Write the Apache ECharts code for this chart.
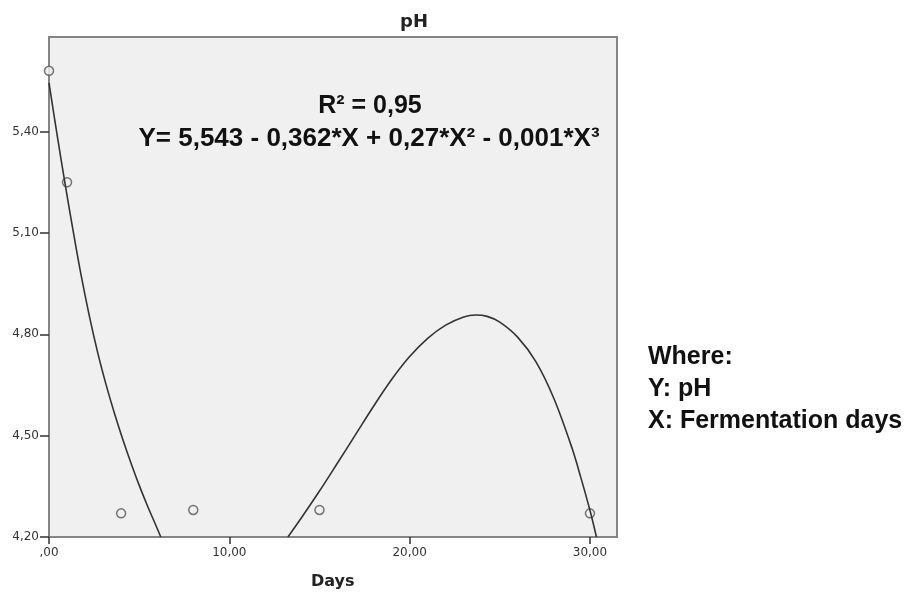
<!DOCTYPE html>
<html>
<head>
<meta charset="utf-8">
<script src="https://cdn.jsdelivr.net/npm/echarts@6/dist/echarts.min.js"></script>
<style>html,body{margin:0;padding:0;background:#fff;}#chart{width:909px;height:594px;}</style>
</head>
<body>
<div id="chart"></div>
<script>
// Observed data points: [day, pH]
const observedPoints = [[0, 5.58], [1, 5.25], [4, 4.27], [8, 4.28], [15, 4.28], [30, 4.27]];
// Fitted curve (left branch, until it leaves the plot at 4.20)
const fitLeft = [[0, 5.544], [0.45, 5.39], [0.9, 5.243], [1.3, 5.118], [1.77, 4.978], [2.23, 4.856], [2.69, 4.748],
  [3.15, 4.654], [3.62, 4.568], [4.08, 4.491], [4.54, 4.42], [5.01, 4.352], [5.47, 4.291], [5.93, 4.234], [6.2, 4.20]];
// Fitted curve, right branch (re-enters at 4.20)
const fitRight = [[13.25, 4.20], [14, 4.257], [15, 4.336], [16, 4.419], [17, 4.503], [18, 4.587], [19, 4.666],
  [20, 4.734], [21, 4.788], [22, 4.827], [23, 4.851], [23.65, 4.857], [24.3, 4.853], [25, 4.836], [26, 4.791],
  [27, 4.719], [28, 4.61], [29, 4.464], [29.5, 4.375], [30, 4.279], [30.36, 4.20]];
const xTicks = [0, 10, 20, 30];
const yTicks = [4.2, 4.5, 4.8, 5.1, 5.4];
const titleText = 'pH';
const xAxisName = 'Days';
const r2Text = 'R² = 0,95';
const equationText = 'Y= 5,543 - 0,362*X + 0,27*X² - 0,001*X³';
const legendLines = ['Where:', 'Y: pH', 'X: Fermentation days'];

function fmt(v) {
  const s = v.toFixed(2).replace('.', ',');
  return s.startsWith('0,') ? s.slice(1) : s;
}

const chart = echarts.init(document.getElementById('chart'));
const gridLeft = 49, gridTop = 37, gridRight = 292, gridBottom = 57;
const axisColor = '#858585';
const labelStyle = { fontFamily: 'DejaVu Sans', fontSize: 12, color: '#333' };

chart.setOption({
  animation: false,
  backgroundColor: '#fff',
  grid: {
    left: gridLeft, top: gridTop, right: gridRight, bottom: gridBottom,
    show: true, backgroundColor: '#f0f0f0', borderColor: axisColor, borderWidth: 2
  },
  xAxis: {
    type: 'value', min: 0, max: 31.5, interval: 10,
    axisLine: { show: true, onZero: false, lineStyle: { color: axisColor, width: 2 } },
    axisTick: { show: true, length: 7, customValues: xTicks, lineStyle: { color: '#333', width: 1.5 } },
    axisLabel: Object.assign({ margin: 10, customValues: xTicks, formatter: fmt }, labelStyle),
    splitLine: { show: false }
  },
  yAxis: {
    type: 'value', min: 4.2, max: 5.68, interval: 0.3,
    axisLine: { show: true, onZero: false, lineStyle: { color: axisColor, width: 2 } },
    axisTick: { show: true, length: 9, customValues: yTicks, lineStyle: { color: '#333', width: 1.5 } },
    axisLabel: Object.assign({ margin: 10, customValues: yTicks, formatter: fmt }, labelStyle),
    splitLine: { show: false }
  },
  series: [
    {
      type: 'scatter', data: observedPoints, symbol: 'circle', symbolSize: 9,
      itemStyle: { color: '#f0f0f0', borderColor: '#555', borderWidth: 1.5 }, z: 2
    },
    {
      type: 'line', data: fitLeft, smooth: 0.35, showSymbol: false, clip: true,
      lineStyle: { color: '#333', width: 1.6 }, z: 3
    },
    {
      type: 'line', data: fitRight, smooth: 0.35, showSymbol: false, clip: true,
      lineStyle: { color: '#333', width: 1.6 }, z: 3
    }
  ],
  graphic: [
    { type: 'text', left: 400, top: 13, style: { text: titleText, font: 'bold 18px "DejaVu Sans"', fill: '#222' } },
    { type: 'text', left: 311, top: 574, style: { text: xAxisName, font: 'bold 16px "DejaVu Sans"', fill: '#222' } },
    { type: 'text', x: 370, y: 106, style: { text: r2Text, font: 'bold 25px "Liberation Sans"', fill: '#111', align: 'center', verticalAlign: 'middle' } },
    { type: 'text', x: 369, y: 139, style: { text: equationText, font: 'bold 26px "Liberation Sans"', fill: '#111', align: 'center', verticalAlign: 'middle' } },
    { type: 'text', x: 648, y: 357, style: { text: legendLines[0], font: 'bold 25px "Liberation Sans"', fill: '#111', align: 'left', verticalAlign: 'middle' } },
    { type: 'text', x: 648, y: 389, style: { text: legendLines[1], font: 'bold 25px "Liberation Sans"', fill: '#111', align: 'left', verticalAlign: 'middle' } },
    { type: 'text', x: 648, y: 421, style: { text: legendLines[2], font: 'bold 25px "Liberation Sans"', fill: '#111', align: 'left', verticalAlign: 'middle' } }
  ]
});
</script>
</body>
</html>
